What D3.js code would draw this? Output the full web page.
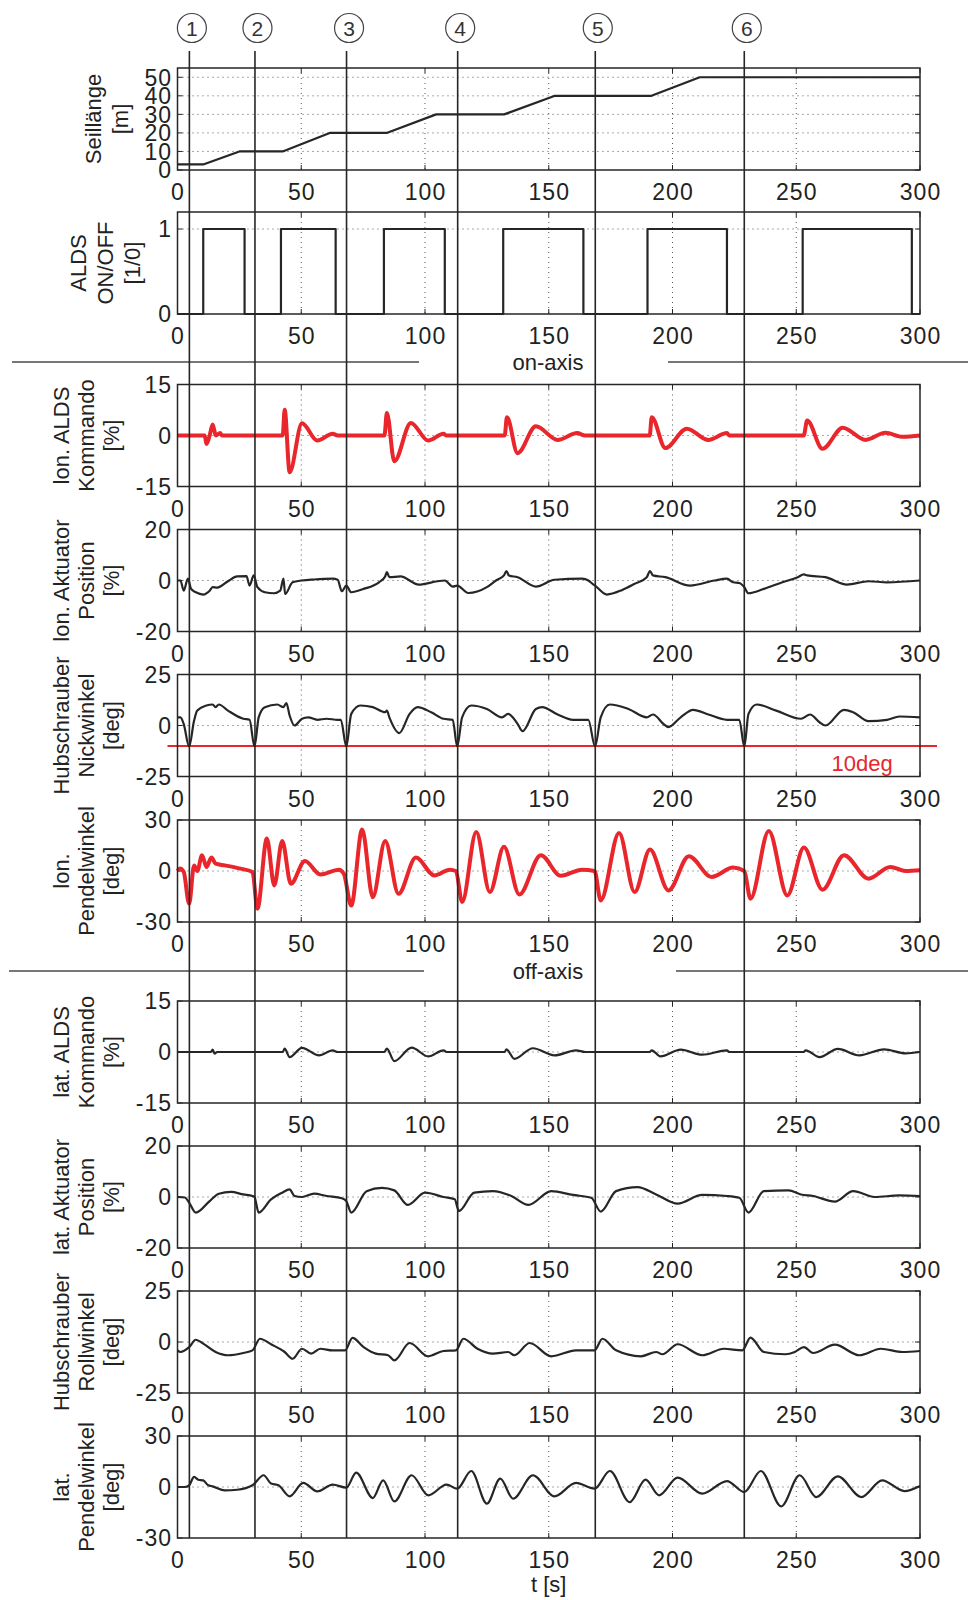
<!DOCTYPE html>
<html><head><meta charset="utf-8">
<script src="https://cdnjs.cloudflare.com/ajax/libs/d3/7.8.5/d3.min.js"></script>
<style>body{margin:0;background:#fff}svg text{font-family:"Liberation Sans",Arial,sans-serif}</style>
</head><body><svg id="c" width="968" height="1600"></svg>
<script>
// ---------- data ----------
const timeTicks = [0, 50, 100, 150, 200, 250, 300];
const timeGrid = [50, 100, 150, 200, 250];
const eventTimes = [4.8, 31.3, 68.3, 113.2, 168.8, 229.0];
const eventLabels = ["1", "2", "3", "4", "5", "6"];

const seil = [[0,3],[10.4,3],[25,10],[42.5,10],[61.5,20],[84.5,20],[104.5,30],[132,30],[152.5,40],[191.5,40],[211,50],[300,50]];
const aldsOn = [10.4, 41.8, 83.4, 131.6, 189.9, 252.6];
const aldsOff = [27.1, 63.9, 108, 164, 222, 296.7];

const lonCmd = [[0,0],[11,0],[11.7,-2.5],[13,0],[14.2,3.2],[15.5,0],[17.2,0.7],[18,0],[42.5,0],[43.3,7.6],[45.3,-10.8],[50.3,3.6],[56.5,-1.5],[62.7,0.5],[64.7,0],[83.6,0],[84.6,6.6],[87.6,-7.6],[94.3,3.7],[101.3,-1.5],[107.5,0.5],[108.7,0],[132.2,0],[133.1,5.4],[137.4,-5.2],[144.8,2.7],[153.6,-1.3],[161.5,0.7],[164.7,0],[190.8,0],[191.6,5.4],[197.1,-3.7],[205.8,2.0],[214.5,-1.3],[222,0.7],[223,0],[253,0],[254.4,4.4],[260.6,-3.9],[268.8,2.3],[278,-1.3],[286,0.8],[293,-0.4],[300,0]];

const lonAkt = [[0,0],[1.2,0],[2.5,-4],[4.2,0.7],[5.5,-3.3],[7.4,-4.6],[10.4,-5.5],[13,-4],[14.2,-2.6],[16,-2.8],[20.4,-0.3],[24.1,1.6],[27.9,1.7],[29.1,-2],[30.8,2],[32.3,-2.6],[35.3,-4.6],[39,-5],[41.5,-4],[42.8,0.7],[43.5,-5.3],[46.5,-0.7],[50.3,0],[55.2,0.4],[62.7,0.7],[64.7,0.3],[66.4,-4.2],[68.2,-2],[70.2,-4.6],[75.2,-3.3],[81.4,-0.7],[83.9,1.6],[84.6,3.3],[85.6,1.3],[90.1,1.6],[97.5,-1.6],[105,-0.3],[108,0],[111.2,-2.4],[113,-2],[117.5,-4.9],[125,-2.6],[128.7,0],[131.9,2],[132.9,3.7],[133.9,2],[137.4,1.3],[144.8,-2.4],[152.3,0.3],[163.5,0.7],[166,0],[167.7,-1.3],[168.7,-2],[173.5,-5.5],[179.7,-3.7],[184.7,-1.3],[189.6,1.3],[190.9,3.7],[192.1,2],[197.1,1.3],[207.1,-2],[217,0],[222,0.7],[224.5,-0.7],[227,-1],[229,-2.6],[230.7,-5],[236.9,-3.3],[244.4,-0.7],[250.6,1.3],[253.1,2.4],[254.4,2],[261.8,1.3],[270.5,-1.6],[279.2,-0.3],[286.7,-0.7],[300,0]];

const nick = [[0,4],[1.2,4],[2.5,0.8],[4.7,-10.3],[6.7,2.4],[8,7.3],[11.7,9.8],[14.2,10.3],[15.4,9],[16.7,10.3],[20.4,7.3],[26.6,3.3],[29.1,2.8],[31.1,-10.3],[32.8,4],[35.3,9],[40.3,10.3],[42.8,9],[44,11],[45.3,4.9],[47.3,0],[50.3,3.3],[52.8,4],[56.5,2.8],[60.2,3.3],[64.7,2.8],[66,2.8],[68.2,-10.3],[70.2,5.7],[73.9,9.8],[78.9,9],[83.9,6.5],[84.6,7.3],[85.6,4],[89.6,-3.7],[93.8,5.7],[97,9],[102.5,6.5],[107.5,3.3],[111.2,2.8],[113,-10.3],[115,4],[118.7,9.8],[125,8.1],[131.1,4],[133.6,5.7],[137.4,0.8],[139.4,-2.8],[144.8,8.1],[147.3,9],[153.6,5.4],[159.8,2.8],[166,2.8],[168.7,-10.3],[171,4],[174.7,10.3],[182.2,8.1],[189.6,4],[192.1,5.4],[196.6,0.5],[198.3,-0.8],[203.3,4],[208.3,7.7],[214.5,5.4],[222,2.8],[227,2.8],[229,-10.3],[230.7,5.7],[234,10.3],[241.9,7.3],[251.9,3.3],[255.6,5.4],[259.4,1.6],[261.8,0],[269.3,7.7],[273,6.5],[279.2,2.1],[286.7,2.8],[291.7,4.4],[300,4]];
const nickLimit = -10;

const lonPend = [[0,0],[1,1.4],[2.5,-0.5],[4.7,-19.3],[6.7,3.3],[8,0],[9.9,9.3],[11.7,2.4],[13.7,7.9],[15.4,4.3],[19.1,3.3],[25.4,1.4],[30.3,-0.6],[32.3,-22.2],[36.1,19.1],[39.1,-8.5],[42.3,17.7],[45.8,-7.5],[51.5,5.9],[57.7,-2],[65.2,0.8],[67.2,-1.6],[70.2,-20.3],[74.6,24.4],[78.9,-15.4],[83.9,17.7],[89.3,-13.4],[96.3,7.9],[103.8,-2.6],[110,0.8],[112.5,0],[115,-18.3],[120.7,23],[126.2,-12.4],[131.9,14.2],[138.1,-13.8],[146.8,9.3],[154.8,-2.8],[163.5,0.8],[168.5,0],[171,-17.3],[178.4,22.4],[184.7,-12.4],[190.9,12.6],[198.4,-11.4],[206.6,8.7],[215.8,-3.5],[224.5,2],[229,0],[231.5,-16.3],[238.9,23.6],[246.4,-14.4],[253.1,13.8],[260.6,-11],[269.3,9.3],[279.2,-4.5],[288,2.4],[294.2,0],[300,0.4]];

const latCmd = [[0,0],[13.5,0],[14.2,0.7],[15,-0.5],[16,0],[42.5,0],[43.3,1],[45.3,-1.5],[50.3,1.2],[57.2,-1],[62.7,0.5],[64.7,0],[83.6,0],[84.6,1],[87.6,-2.7],[94.6,1.3],[101.3,-1.3],[107.5,0.5],[108.7,0],[132.2,0],[132.9,0.8],[136.1,-2],[143.6,1.1],[152.3,-1],[161,0.5],[164.7,0],[190.8,0],[191.6,0.5],[195.1,-1.3],[203.3,0.7],[212,-0.8],[222,0.5],[223,0],[253,0],[253.8,0.5],[259.4,-1.5],[266.8,0.9],[275.5,-1],[285.5,0.8],[294.2,-0.4],[300,0]];

const latAkt = [[0,0],[3,-0.2],[4.7,-2.2],[7.4,-6.1],[13,-1.6],[16.7,1.3],[21.6,2],[26.6,1],[30.3,0.4],[31.1,0],[32.8,-6.1],[37.8,-0.9],[42.3,1.7],[45.3,3],[47.3,0.4],[50.3,0],[55.2,1.3],[60.2,0.4],[66.4,-0.5],[68.2,-1.6],[70.2,-6.1],[76.4,2.3],[82.6,3.6],[87.6,2.6],[93.1,-3.1],[100,1.7],[107.5,0],[112,-0.9],[113.7,-5.5],[119.9,1.7],[127.4,2.3],[134.9,0.4],[141.8,-3.1],[151,2.3],[159.8,0.8],[167.2,-0.3],[171,-5.7],[177.2,2.3],[185.9,3.9],[193.4,1],[202.1,-2.6],[212,0.8],[222,0.4],[227,-0.3],[230.7,-6.1],[236.9,2.3],[246.9,2.6],[251.9,1],[256.8,0.4],[265.6,-1.8],[273,2.3],[281.7,0],[291.7,0.6],[300,0.4]];

const roll = [[0,-4.1],[1.2,-4.9],[4.7,-2.5],[7.4,1.1],[10.4,-0.8],[15.4,-4.9],[20.4,-6.5],[26.6,-5.4],[30.3,-4.1],[33.3,1.6],[37.8,-1.1],[43.3,-4.9],[46.5,-8.2],[50.3,-3.3],[54,-5.7],[57.7,-3.3],[62.7,-4.1],[67.7,-4.1],[70.7,2],[75.2,-2.5],[80.1,-5.7],[85.1,-6.5],[87.6,-9],[93.8,-0.5],[101.3,-7],[107.5,-4.4],[112.5,-4.1],[115.5,1.6],[121.2,-3.3],[127.4,-5.7],[133.6,-4.9],[136.1,-6.5],[142.3,-0.5],[151,-7],[161,-4.1],[168.5,-4.1],[171.7,1.6],[177.2,-4.1],[187.2,-7],[193.4,-4.9],[195.9,-6],[202.1,-1.1],[212,-6.5],[220.8,-3.3],[228.2,-4.1],[231.5,2.1],[236.9,-4.9],[245.6,-6],[249.4,-4.9],[253.1,-2.5],[256.8,-5.4],[265.6,-1.3],[275.5,-6.5],[284.2,-3.3],[292.9,-4.9],[300,-4.4]];

const latPend = [[0,0],[3,0],[4.7,1],[6.7,5.9],[8.4,4.3],[10.4,3.9],[12.4,1],[14.2,0.4],[19.1,-2],[24.1,-1.6],[30.3,1],[34.8,6.9],[37.8,2],[40.8,1],[45.3,-5.5],[50.8,2.4],[56.5,-2.6],[62.7,1.4],[68.2,-0.4],[72.2,8.5],[78.9,-6.5],[83.1,3.9],[87.6,-8.5],[94.6,6.9],[101.3,-4.9],[108.7,1.4],[113,-1],[118.7,9.4],[125,-9.8],[130.4,4.9],[135.6,-6.9],[143.6,6.9],[152.3,-5.5],[161,2.4],[168.5,-1],[174.7,9.4],[182.7,-8.9],[189.1,4.3],[194.6,-4.9],[202.1,5.5],[212,-3.9],[222,3.5],[229,-3],[235.7,9.4],[243.9,-11.4],[251.4,6.9],[258.1,-5.9],[266.8,6.3],[276.3,-5.9],[284.7,3.9],[293.7,-2.4],[300,0.6]];

const yTicks = [[0,10,20,30,40,50],[0,1],[-15,0,15],[-20,0,20],[-25,0,25],[-30,0,30],[-15,0,15],[-20,0,20],[-25,0,25],[-30,0,30]];
const yDomains = [[0,55],[0,1.2],[-15,15],[-20,20],[-25,25],[-30,30],[-15,15],[-20,20],[-25,25],[-30,30]];
const yLabels = [
  ["Seillänge","[m]"],
  ["ALDS","ON/OFF","[1/0]"],
  ["lon. ALDS","Kommando","[%]"],
  ["lon. Aktuator","Position","[%]"],
  ["Hubschrauber","Nickwinkel","[deg]"],
  ["lon.","Pendelwinkel","[deg]"],
  ["lat. ALDS","Kommando","[%]"],
  ["lat. Aktuator","Position","[%]"],
  ["Hubschrauber","Rollwinkel","[deg]"],
  ["lat.","Pendelwinkel","[deg]"]
];
const sectionLabels = ["on-axis", "off-axis"];
const xLabel = "t [s]";
const limitLabel = "10deg";

// ---------- build ----------
const aldsSteps = [[0,0]];
aldsOn.forEach((t,i)=>{ aldsSteps.push([t,1]); aldsSteps.push([aldsOff[i],0]); });
aldsSteps.push([300,0]);

const series = [seil, aldsSteps, lonCmd, lonAkt, nick, lonPend, latCmd, latAkt, roll, latPend];
const isRed = [false,false,true,false,false,true,false,false,false,false];

const X0 = 177.5, W = 742.5, H = 102;
const tops = [68, 212, 384.5, 529.5, 674.5, 820, 1001, 1146, 1291, 1436];
const labelX = [[101,128],[86,113,140]];
const labelXdef = [69,94,119];
const RED = "#e8262c", INK = "#262626", FS = 22, TFS = 23;

const svg = d3.select("#c");
svg.append("rect").attr("width",968).attr("height",1600).attr("fill","#fff");
const x = d3.scaleLinear().domain([0,300]).range([0,W]);

tops.forEach((top,i)=>{
  const g = svg.append("g").attr("transform",`translate(${X0},${top})`);
  const y = d3.scaleLinear().domain(yDomains[i]).range([H,0]);
  // grid
  g.selectAll(".vg").data(timeGrid).join("line")
    .attr("x1",d=>x(d)).attr("x2",d=>x(d)).attr("y1",0).attr("y2",H)
    .attr("stroke","#555").attr("stroke-width",1).attr("stroke-dasharray","1,4");
  const dom = yDomains[i];
  g.selectAll(".hg").data(yTicks[i].filter(v=>v>dom[0]&&v<dom[1])).join("line")
    .attr("x1",0).attr("x2",W).attr("y1",d=>y(d)).attr("y2",d=>y(d))
    .attr("stroke","#555").attr("stroke-width",1).attr("stroke-dasharray","1,4");
  // ticks
  timeTicks.forEach(t=>{
    g.append("line").attr("x1",x(t)).attr("x2",x(t)).attr("y1",H).attr("y2",H-5).attr("stroke",INK);
    g.append("line").attr("x1",x(t)).attr("x2",x(t)).attr("y1",0).attr("y2",5).attr("stroke",INK);
  });
  yTicks[i].forEach(v=>{
    g.append("line").attr("x1",0).attr("x2",5).attr("y1",y(v)).attr("y2",y(v)).attr("stroke",INK);
    g.append("line").attr("x1",W).attr("x2",W-5).attr("y1",y(v)).attr("y2",y(v)).attr("stroke",INK);
  });
  // limit line
  if (i===4) {
    g.append("line").attr("x1",-10).attr("x2",W+17).attr("y1",y(nickLimit)).attr("y2",y(nickLimit))
      .attr("stroke",RED).attr("stroke-width",2);
    g.append("text").attr("x",x(276.6)).attr("y",y(nickLimit)+25).attr("text-anchor","middle")
      .attr("font-size",FS).attr("fill",RED).text(limitLabel);
  }
  // curve
  const curve = i===1 ? d3.curveStepAfter : (i===0 ? d3.curveLinear : d3.curveMonotoneX);
  const line = d3.line().x(d=>x(d[0])).y(d=>y(d[1])).curve(curve);
  g.append("path").datum(series[i]).attr("d",line).attr("fill","none")
    .attr("stroke",isRed[i]?RED:INK).attr("stroke-width",isRed[i]?4:2.2)
    .attr("stroke-linejoin","round");
  // box
  g.append("rect").attr("width",W).attr("height",H).attr("fill","none").attr("stroke",INK).attr("stroke-width",1.5);
  // tick labels
  g.selectAll(".xl").data(timeTicks).join("text").attr("x",d=>x(d)+0.5).attr("y",H+30)
    .attr("text-anchor","middle").attr("font-size",TFS).attr("letter-spacing",1).attr("fill","#222").text(d=>d);
  g.selectAll(".yl").data(yTicks[i]).join("text").attr("x",-5.5).attr("y",d=>y(d)).attr("dy","0.36em")
    .attr("text-anchor","end").attr("font-size",TFS).attr("letter-spacing",1).attr("fill","#222").text(d=>d);
  // y label
  const lx = i<2 ? labelX[i] : labelXdef;
  yLabels[i].forEach((s,k)=>{
    svg.append("text").attr("transform",`translate(${lx[k]},${top+H/2}) rotate(-90)`)
      .attr("text-anchor","middle").attr("font-size",FS).attr("fill","#222").text(s);
  });
});

// separators
[[362,12,419,668,968],[971,9,424,676,968]].forEach((s,k)=>{
  svg.append("line").attr("x1",s[1]).attr("x2",s[2]).attr("y1",s[0]).attr("y2",s[0]).attr("stroke","#777").attr("stroke-width",2);
  svg.append("line").attr("x1",s[3]).attr("x2",s[4]).attr("y1",s[0]).attr("y2",s[0]).attr("stroke","#777").attr("stroke-width",2);
  svg.append("text").attr("x",548).attr("y",s[0]).attr("dy","0.36em").attr("text-anchor","middle")
    .attr("font-size",FS).attr("fill","#222").text(sectionLabels[k]);
});

// event lines
const bottom = tops[tops.length-1]+H;
eventTimes.forEach((t,k)=>{
  const ex = X0 + x(t);
  svg.append("line").attr("x1",ex).attr("x2",ex).attr("y1",51).attr("y2",bottom)
    .attr("stroke",INK).attr("stroke-width",1.6);
  svg.append("circle").attr("cx",ex+2.5).attr("cy",28).attr("r",14.5).attr("fill","#fff")
    .attr("stroke","#444").attr("stroke-width",1.2);
  svg.append("text").attr("x",ex+2.5).attr("y",28).attr("dy","0.36em").attr("text-anchor","middle")
    .attr("font-size",21).attr("fill","#333").text(eventLabels[k]);
});

svg.append("text").attr("x",X0+W/2).attr("y",1592).attr("text-anchor","middle")
  .attr("font-size",FS).attr("fill","#222").text(xLabel);
</script></body></html>
